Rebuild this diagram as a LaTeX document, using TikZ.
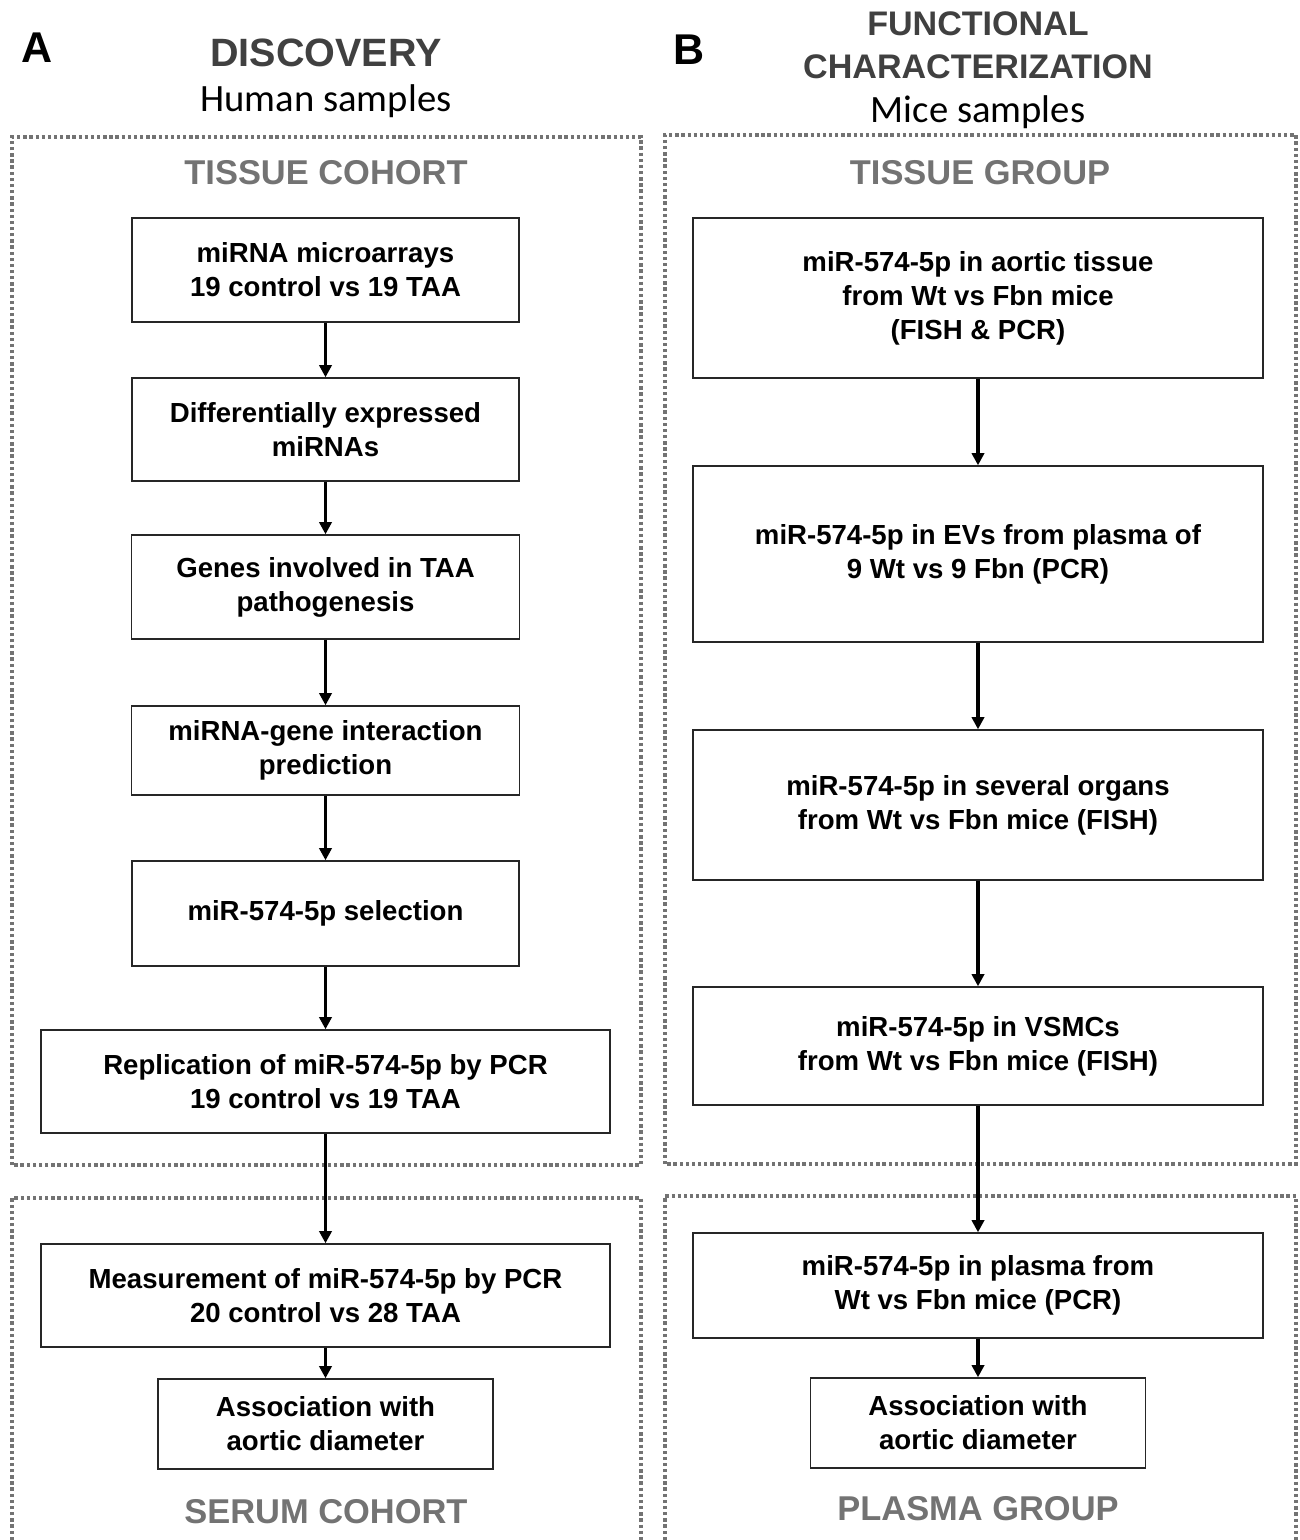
\documentclass[tikz,border=0pt]{standalone}
\usepackage{fontspec}
\setmainfont{Liberation Sans}
\newfontfamily\calfont{Carlito}
\usetikzlibrary{positioning,arrows.meta}
\definecolor{framegray}{gray}{0.45}
\definecolor{groupgray}{gray}{0.45}
\definecolor{headgray}{gray}{0.25}
\tikzset{
  stepbox/.style={draw=black!85, line width=0.8pt, align=center, inner sep=2pt,
    font=\bfseries\fontsize{15.7}{19.3}\selectfont},
  flowarrow/.style={-{Triangle[length=7pt,width=7pt]}, line width=1.8pt},
  cohortframe/.style={draw=framegray, line width=1.9pt, dash pattern=on 1.9pt off 1.6pt},
  grouptitle/.style={font=\bfseries\fontsize{19.6}{22}\selectfont, text=groupgray, anchor=base},
  paneltitle/.style={font=\bfseries\fontsize{22.5}{25}\selectfont, text=headgray, anchor=base},
  panelsub/.style={font=\calfont\fontsize{22}{25}\selectfont, anchor=base},
  panelletter/.style={font=\bfseries\fontsize{24.5}{28}\selectfont, anchor=base},
}

\begin{document}
\begin{tikzpicture}[x=0.02cm, y=-0.02cm]
  \useasboundingbox (0,0) rectangle (1300,1540);

  % panel A: discovery
  \node[panelletter] (letA) at (37,63) {A};
  \node[paneltitle] (titleA) at (326,67) {DISCOVERY};
  \node[panelsub] (subA) at (326,112) {Human samples};

  \draw[cohortframe] (12,1165) rectangle (641,137);
  \draw[cohortframe] (12,1540) |- (641,1198) -- (641,1540);
  \node[grouptitle] (tissueA) at (326,185) {TISSUE COHORT};
  \node[grouptitle] (serumA) at (326,1523) {SERUM COHORT};

  \node[stepbox, minimum width=7.74cm, minimum height=2.08cm] (arrays) at (325.5,270) {miRNA microarrays\\19 control vs 19 TAA};
  \node[stepbox, minimum width=7.74cm, minimum height=2.06cm] (diffexp) at (325.5,429.5) {Differentially expressed\\miRNAs};
  \node[stepbox, minimum width=7.76cm, minimum height=2.08cm] (genes) at (325.5,587) {Genes involved in TAA\\pathogenesis};
  \node[stepbox, minimum width=7.76cm, minimum height=1.78cm] (predict) at (325.5,750.5) {miRNA-gene interaction\\prediction};
  \node[stepbox, minimum width=7.74cm, minimum height=2.10cm] (select) at (325.5,913.5) {miR-574-5p selection};
  \node[stepbox, minimum width=11.38cm, minimum height=2.06cm] (replic) at (325.5,1081.5) {Replication of miR-574-5p by PCR\\19 control vs 19 TAA};
  \node[stepbox, minimum width=11.38cm, minimum height=2.06cm] (measure) at (325.5,1295.5) {Measurement of miR-574-5p by PCR\\20 control vs 28 TAA};
  \node[stepbox, minimum width=6.70cm, minimum height=1.80cm] (assocA) at (325.5,1424) {Association with\\aortic diameter};

  \draw[flowarrow] (arrays) -- (diffexp);
  \draw[flowarrow] (diffexp) -- (genes);
  \draw[flowarrow] (genes) -- (predict);
  \draw[flowarrow] (predict) -- (select);
  \draw[flowarrow] (select) -- (replic);
  \draw[flowarrow] (replic) -- (measure);
  \draw[flowarrow] (measure) -- (assocA);

  % panel B: functional characterization
  \node[panelletter] (letB) at (689,65) {B};
  \node[paneltitle, font=\bfseries\fontsize{19.4}{24.5}\selectfont, align=center] (titleB) at (978,79) {FUNCTIONAL\\CHARACTERIZATION};
  \node[panelsub] (subB) at (978,123) {Mice samples};

  \draw[cohortframe] (665,1164) rectangle (1296,135);
  \draw[cohortframe] (665,1540) |- (1296,1196) -- (1296,1540);
  \node[grouptitle] (tissueB) at (980,185) {TISSUE GROUP};
  \node[grouptitle] (plasmaB) at (978,1520) {PLASMA GROUP};

  \node[stepbox, minimum width=11.4cm, minimum height=3.20cm] (aortic) at (978,298) {miR-574-5p in aortic tissue\\from Wt vs Fbn mice\\(FISH \& PCR)};
  \node[stepbox, minimum width=11.4cm, minimum height=3.52cm] (evs) at (978,554) {miR-574-5p in EVs from plasma of\\9 Wt vs 9 Fbn (PCR)};
  \node[stepbox, minimum width=11.4cm, minimum height=3.00cm] (organs) at (978,805) {miR-574-5p in several organs\\from Wt vs Fbn mice (FISH)};
  \node[stepbox, minimum width=11.4cm, minimum height=2.36cm] (vsmc) at (978,1046) {miR-574-5p in VSMCs\\from Wt vs Fbn mice (FISH)};
  \node[stepbox, minimum width=11.4cm, minimum height=2.10cm] (plasma) at (978,1285.5) {miR-574-5p in plasma from\\Wt vs Fbn mice (PCR)};
  \node[stepbox, minimum width=6.70cm, minimum height=1.80cm] (assocB) at (978,1423) {Association with\\aortic diameter};

  \draw[flowarrow] (aortic) -- (evs);
  \draw[flowarrow] (evs) -- (organs);
  \draw[flowarrow] (organs) -- (vsmc);
  \draw[flowarrow] (vsmc) -- (plasma);
  \draw[flowarrow] (plasma) -- (assocB);
\end{tikzpicture}
\end{document}
